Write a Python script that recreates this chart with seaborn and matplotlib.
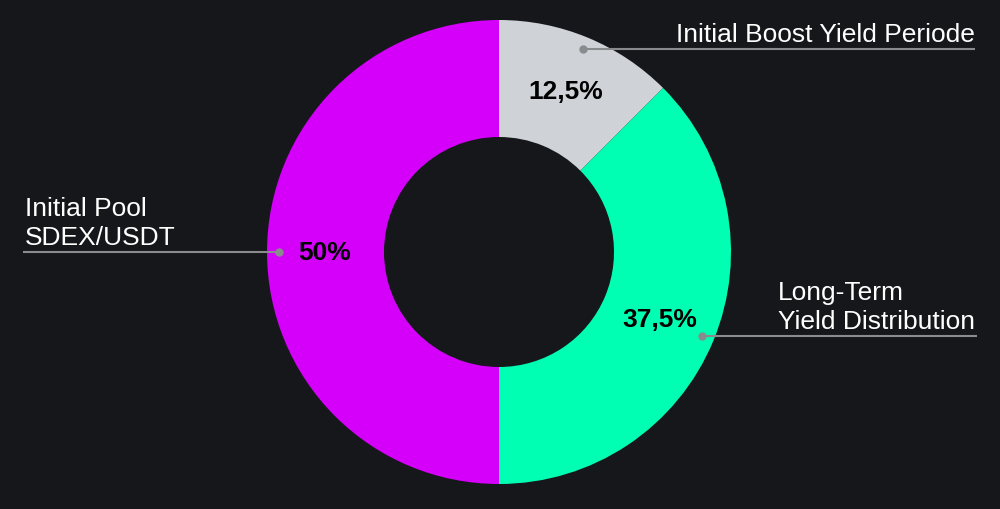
"""
Donut chart of the token allocation
"""

import numpy as np
import matplotlib.pyplot as plt
import seaborn as sns

# data
labels = ['Initial Boost Yield Periode', 'Long-Term\nYield Distribution', 'Initial Pool\nSDEX/USDT']
shares = [12.5, 37.5, 50]
colors = ['#cfd3d7', '#00ffb3', '#d500fa']

bg = '#15171b'
line_color = '#8a8b8d'

sns.set_theme(style='dark', rc={'figure.facecolor': bg, 'axes.facecolor': bg})
plt.rcParams['font.family'] = ['Liberation Sans', 'DejaVu Sans']

fig = plt.figure(figsize=(10, 5.1), dpi=100)
ax = fig.add_axes([0, 0, 1, 1])

cx, cy, R = 499, 257, 232
wedges, _, pcts = ax.pie(shares, colors=colors, startangle=90, counterclock=False,
                         center=(cx, cy), radius=R,
                         wedgeprops=dict(width=117, linewidth=0),
                         autopct=lambda p: f'{p:g}%'.replace('.', ','), pctdistance=0.75,
                         textprops=dict(color='black', fontsize=19, fontweight='bold'))
ax.set_xlim(0, 1000)
ax.set_ylim(0, 510)
ax.set_aspect('equal')
ax.axis('off')

# leader lines: (end of line x, text x, text alignment)
layout = [(975, 975, 'right'), (977, 778, 'left'), (23, 25, 'left')]
for w, lab, (x_end, x_txt, ha) in zip(wedges, labels, layout):
    mid = np.deg2rad((w.theta1 + w.theta2) / 2)
    px = cx + 220 * np.cos(mid)
    py = cy + 220 * np.sin(mid)
    ax.plot([px, x_end], [py, py], color=line_color, linewidth=1.5, solid_capstyle='butt')
    ax.plot(px, py, 'o', color=line_color, markersize=5)
    ax.text(x_txt, py + 3, lab, color='white', fontsize=19, ha=ha, va='bottom',
            linespacing=1.25)

plt.savefig('out.png', dpi=100, facecolor=bg)
